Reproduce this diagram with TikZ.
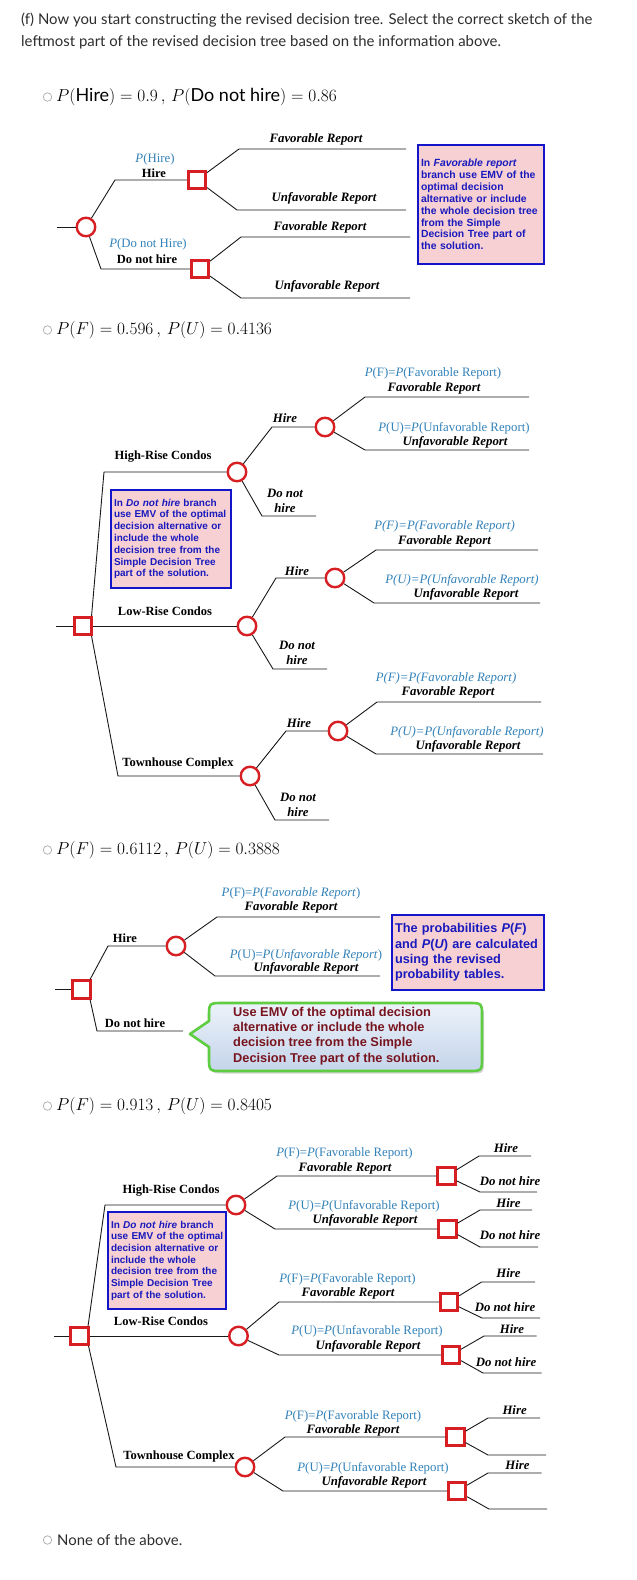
\documentclass[tikz,border=0pt]{standalone}
\usepackage{fontspec}
\usetikzlibrary{shadows}
\setmainfont{Liberation Serif}
\newfontfamily\arialf{Liberation Sans}
\newfontfamily\uif{Lato}
\definecolor{dred}{RGB}{215,30,35}
\definecolor{pblue}{RGB}{50,130,185}
\definecolor{nblue}{RGB}{20,20,200}
\definecolor{npink}{RGB}{246,208,210}
\definecolor{ntext}{RGB}{25,25,190}
\definecolor{cgreen}{RGB}{95,205,65}
\definecolor{ctext}{RGB}{120,20,30}
\definecolor{cbtop}{RGB}{236,242,250}
\definecolor{cbbot}{RGB}{196,212,234}
\definecolor{treeline}{RGB}{25,25,25}
\definecolor{uitext}{RGB}{45,45,45}
\tikzset{
 ln/.style={line width=0.9pt, draw=treeline, line join=round},
 chance/.style={circle, draw=dred, line width=2.4pt, minimum size=18.5pt, inner sep=0pt, fill=white},
 dec/.style={rectangle, draw=dred, line width=2.6pt, minimum size=17.5pt, inner sep=0pt, fill=white},
 bl/.style={font=\bfseries\fontsize{12.5}{14}\selectfont, inner sep=0pt},
 bil/.style={font=\bfseries\itshape\fontsize{12.8}{15}\selectfont, inner sep=0pt, align=center},
 pl/.style={font=\fontsize{12.8}{14}\selectfont, text=pblue, inner sep=0pt},
 notebox/.style={draw=nblue, line width=2pt, fill=npink, text=ntext, align=left, inner xsep=3pt, inner ysep=0pt, font=\arialf\bfseries\fontsize{10.4}{11.9}\selectfont, anchor=north west},
 radio/.style={circle, draw=gray!65, line width=0.7pt, minimum size=8.5pt, inner sep=0pt},
 opt/.style={font=\fontsize{18}{20}\selectfont, anchor=west, inner sep=0pt, text=black},
 ui/.style={font=\uif\fontsize{14.9}{17}\selectfont, anchor=west, inner sep=0pt, text=uitext},
 callt/.style={font=\arialf\bfseries\fontsize{12.8}{15.3}\selectfont, text=ctext, align=left, anchor=west, inner sep=0pt},
}
\newcommand{\pfa}{\textit{P}(F)=\textit{P}(Favorable Report)}
\newcommand{\pua}{\textit{P}(U)=\textit{P}(Unfavorable Report)}
\newcommand{\pfb}{\textit{P(F)=P(Favorable Report)}}
\newcommand{\pub}{\textit{P(U)=P(Unfavorable Report)}}
\newcommand{\pfc}{\textit{P}(F)=\textit{P}(\textit{Favorable Report})}
\newcommand{\puc}{\textit{P}(U)=\textit{P}(\textit{Unfavorable Report})}
\begin{document}
\begin{tikzpicture}[x=1pt,y=-1pt]
\useasboundingbox[fill=white] (0,0) rectangle (637,1580);
% ---------- title ----------
\node[ui] (tt1) at (21,20) {(f) Now you start constructing the revised decision tree. Select the correct sketch of the};
\node[ui] (tt2) at (21,42) {leftmost part of the revised decision tree based on the information above.};
% ---------- option 1 ----------
\node[radio] (r1) at (47.5,97) {};
\node[opt] (o1) at (56,97) {$P(\mbox{\uif Hire}) = 0.9\,,\,P(\mbox{\uif Do not hire}) = 0.86$};
\node[chance] (c1) at (86,227) {};
\coordinate (c1in) at (57,227);
\node[dec] (d1a) at (197,180) {};
\node[dec] (d1b) at (200,269) {};
\coordinate (k1a) at (115,180);
\coordinate (k1b) at (101,269);
\draw[ln] (c1in) -- (c1);
\draw[ln] (c1) -- (k1a) -- (d1a);
\draw[ln] (c1) -- (k1b) -- (d1b);
\coordinate (k1c) at (239,149); \coordinate (e1c) at (406,149);
\coordinate (k1d) at (237,210); \coordinate (e1d) at (406,210);
\coordinate (k1e) at (241,237); \coordinate (e1e) at (410,237);
\coordinate (k1f) at (241,298); \coordinate (e1f) at (410,298);
\draw[ln] (d1a) -- (k1c) -- (e1c);
\draw[ln] (d1a) -- (k1d) -- (e1d);
\draw[ln] (d1b) -- (k1e) -- (e1e);
\draw[ln] (d1b) -- (k1f) -- (e1f);
\node[pl] (l1a) at (155,159) {\textit{P}(Hire)};
\node[bl] (l1b) at (154,173) {Hire};
\node[pl] (l1c) at (148,244) {\textit{P}(Do not Hire)};
\node[bl] (l1d) at (147,259) {Do not hire};
\node[bil] (l1e) at (316,139) {Favorable Report};
\node[bil] (l1f) at (324,198) {Unfavorable Report};
\node[bil] (l1g) at (320,227) {Favorable Report};
\node[bil] (l1h) at (327,286) {Unfavorable Report};
\node[notebox, text width=120pt, minimum height=119pt] (n1) at (417,144) {\mbox{In \textit{Favorable report}}\\ \mbox{branch use EMV of the}\\ \mbox{optimal decision}\\ \mbox{alternative or include}\\ \mbox{the whole decision tree}\\ \mbox{from the Simple}\\ \mbox{Decision Tree part of}\\ \mbox{the solution.}};
% ---------- option 2 ----------
\node[radio] (r2) at (47.5,330) {};
\node[opt] (o2) at (56,330) {$P(F) = 0.596\,,\,P(U) = 0.4136$};
\node[dec] (m2) at (83,626) {};
\coordinate (m2in) at (56,626);
\node[chance] (h2) at (237,472) {};
\node[chance] (lr2) at (247,626) {};
\node[chance] (t2) at (250,776) {};
\coordinate (k2a) at (104,472);
\coordinate (k2t) at (118,776);
\draw[ln] (m2in) -- (m2);
\draw[ln] ([xshift=-1.5pt]m2.north east) -- (k2a) -- (h2);
\draw[ln] (m2) -- (lr2);
\draw[ln] ([xshift=-1.5pt]m2.south east) -- (k2t) -- (t2);
% HR
\node[chance] (hh2) at (325,427) {};
\coordinate (k2b) at (272,427);
\coordinate (k2c) at (262,516); \coordinate (e2c) at (316,516);
\coordinate (k2d) at (365,397); \coordinate (e2d) at (529,397);
\coordinate (k2e) at (365,450); \coordinate (e2e) at (529,450);
\draw[ln] (h2) -- (k2b) -- (hh2);
\draw[ln] (h2) -- (k2c) -- (e2c);
\draw[ln] (hh2) -- (k2d) -- (e2d);
\draw[ln] (hh2) -- (k2e) -- (e2e);
% LR
\node[chance] (lh2) at (335,578) {};
\coordinate (k2f) at (276,578);
\coordinate (k2g) at (273,669); \coordinate (e2g) at (327,669);
\coordinate (k2h) at (376,550); \coordinate (e2h) at (538,550);
\coordinate (k2i) at (374,603); \coordinate (e2i) at (540,603);
\draw[ln] (lr2) -- (k2f) -- (lh2);
\draw[ln] (lr2) -- (k2g) -- (e2g);
\draw[ln] (lh2) -- (k2h) -- (e2h);
\draw[ln] (lh2) -- (k2i) -- (e2i);
% TC
\node[chance] (th2) at (338,731) {};
\coordinate (k2j) at (286,731);
\coordinate (k2k) at (275,820); \coordinate (e2k) at (329,820);
\coordinate (k2l) at (377,702); \coordinate (e2l) at (541,702);
\coordinate (k2m) at (376,754); \coordinate (e2m) at (543,754);
\draw[ln] (t2) -- (k2j) -- (th2);
\draw[ln] (t2) -- (k2k) -- (e2k);
\draw[ln] (th2) -- (k2l) -- (e2l);
\draw[ln] (th2) -- (k2m) -- (e2m);
\node[bl] (l2a) at (163,457) {High-Rise Condos};
\node[bil] (l2b) at (285,418) {Hire};
\node[bil] (l2c) at (285,500.5) {Do not\\hire};
\node[pl] (l2d) at (433,373) {\pfa};
\node[bil] (l2e) at (434,388) {Favorable Report};
\node[pl] (l2f) at (454,428) {\pua};
\node[bil] (l2g) at (455,442) {Unfavorable Report};
\node[bl] (l2h) at (165,611) {Low-Rise Condos};
\node[bil] (l2i) at (297,571) {Hire};
\node[bil] (l2j) at (297,653) {Do not\\hire};
\node[pl] (l2k) at (444.5,526) {\pfb};
\node[bil] (l2l) at (444.5,541) {Favorable Report};
\node[pl] (l2m) at (462,580) {\pub};
\node[bil] (l2n) at (466,594) {Unfavorable Report};
\node[bl] (l2o) at (178,763) {Townhouse Complex};
\node[bil] (l2p) at (299,723) {Hire};
\node[bil] (l2q) at (298,805) {Do not\\hire};
\node[pl] (l2r) at (446,678) {\pfb};
\node[bil] (l2s) at (448,692) {Favorable Report};
\node[pl] (l2t) at (467,732) {\pub};
\node[bil] (l2u) at (468,746) {Unfavorable Report};
\node[notebox, text width=114pt, minimum height=98pt, font=\arialf\bfseries\fontsize{10}{11.8}\selectfont] (n2) at (110,489) {\mbox{In \textit{Do not hire} branch}\\ \mbox{use EMV of the optimal}\\ \mbox{decision alternative or}\\ \mbox{include the whole}\\ \mbox{decision tree from the}\\ \mbox{Simple Decision Tree}\\ \mbox{part of the solution.}};
% ---------- option 3 ----------
\node[radio] (r3) at (47.5,850) {};
\node[opt] (o3) at (56,850) {$P(F) = 0.6112\,,\,P(U) = 0.3888$};
\node[dec] (m3) at (81.5,989.5) {};
\coordinate (m3in) at (55,989.5);
\node[chance] (hc3) at (176,946) {};
\coordinate (k3a) at (108,946);
\coordinate (k3b) at (97,1031); \coordinate (e3b) at (183,1031);
\coordinate (k3c) at (217,917); \coordinate (e3c) at (380,917);
\coordinate (k3d) at (215,976); \coordinate (e3d) at (380,976);
\draw[ln] (m3in) -- (m3);
\draw[ln] ([xshift=-1.5pt]m3.north east) -- (k3a) -- (hc3);
\draw[ln] ([xshift=-1.5pt]m3.south east) -- (k3b) -- (e3b);
\draw[ln] (hc3) -- (k3c) -- (e3c);
\draw[ln] (hc3) -- (k3d) -- (e3d);
\node[bl] (l3a) at (125,938) {Hire};
\node[bl] (l3b) at (135,1023) {Do not hire};
\node[pl] (l3c) at (291,893) {\pfc};
\node[bil] (l3d) at (291,907) {Favorable Report};
\node[pl] (l3e) at (306,955) {\puc};
\node[bil] (l3f) at (306,968) {Unfavorable Report};
\node[notebox, text width=146pt, minimum height=75pt, font=\arialf\bfseries\fontsize{12.7}{15.4}\selectfont] (n3) at (391,914) {\mbox{The probabilities \textit{P}(\textit{F})}\\ \mbox{and \textit{P}(\textit{U}) are calculated}\\ \mbox{using the revised}\\ \mbox{probability tables.}};
\path[draw=cgreen, line width=2.6pt, line join=round, top color=cbtop, bottom color=cbbot, drop shadow={shadow xshift=2pt, shadow yshift=-2.5pt, opacity=0.35}]
 (190,1034) -- (209,1021) -- (209,1017) .. controls (209,1003) .. (223,1003) -- (468,1003) .. controls (482,1003) .. (482,1017) -- (482,1057) .. controls (482,1071) .. (468,1071) -- (223,1071) .. controls (209,1071) .. (209,1057) -- (209,1047) -- cycle;
\node[callt] (cl) at (233,1036) {Use EMV of the optimal decision\\ alternative or include the whole\\ decision tree from the Simple\\ Decision Tree part of the solution.};
% ---------- option 4 ----------
\node[radio] (r4) at (47.5,1106) {};
\node[opt] (o4) at (56,1106) {$P(F) = 0.913\,,\,P(U) = 0.8405$};
\node[dec] (m4) at (79.5,1336) {};
\coordinate (m4in) at (54,1336);
\node[chance] (h4) at (236,1205) {};
\node[chance] (lr4) at (238.5,1336) {};
\node[chance] (t4) at (245,1467) {};
\coordinate (k4a) at (105,1205);
\coordinate (k4t) at (116,1467);
\draw[ln] (m4in) -- (m4);
\draw[ln] ([xshift=-1.5pt]m4.north east) -- (k4a) -- (h4);
\draw[ln] (m4) -- (lr4);
\draw[ln] ([xshift=-1pt]m4.south east) -- (k4t) -- (t4);
\node[dec] (a4) at (446.5,1176) {};
\node[dec] (b4) at (447.5,1229) {};
\node[dec] (c4) at (449,1302) {};
\node[dec] (d4) at (451,1355) {};
\node[dec] (e4) at (455.5,1437) {};
\node[dec] (f4) at (457,1491) {};
\coordinate (k4b) at (277,1176);
\coordinate (k4e) at (275,1229);
\coordinate (k4h) at (279,1302);
\coordinate (k4k) at (279,1355);
\coordinate (k4n) at (285,1437);
\coordinate (k4q) at (283,1491);
\draw[ln] (h4) -- (k4b) -- (a4);
\draw[ln] (h4) -- (k4e) -- (b4);
\draw[ln] (lr4) -- (k4h) -- (c4);
\draw[ln] (lr4) -- (k4k) -- (d4);
\draw[ln] (t4) -- (k4n) -- (e4);
\draw[ln] (t4) -- (k4q) -- (f4);
\coordinate (k4c) at (479,1156); \coordinate (e4c) at (531,1156);
\coordinate (k4d) at (480,1192); \coordinate (e4d) at (537,1192);
\coordinate (k4f) at (480,1210); \coordinate (e4f) at (532,1210);
\coordinate (k4g) at (480,1247); \coordinate (e4g) at (538,1247);
\coordinate (k4i) at (481.5,1282); \coordinate (e4i) at (535,1282);
\coordinate (k4j) at (482,1318); \coordinate (e4j) at (540,1318);
\coordinate (k4l) at (484,1336); \coordinate (e4l) at (536.5,1336);
\coordinate (k4m) at (483,1373); \coordinate (e4m) at (541.5,1373);
\coordinate (k4o) at (488,1418); \coordinate (e4o) at (540,1418);
\coordinate (k4p) at (488,1455); \coordinate (e4p) at (546,1455);
\coordinate (k4r) at (488,1473); \coordinate (e4r) at (541.5,1473);
\coordinate (k4s) at (489,1509); \coordinate (e4s) at (547,1509);
\draw[ln] (a4) -- (k4c) -- (e4c);
\draw[ln] (a4) -- (k4d) -- (e4d);
\draw[ln] (b4) -- (k4f) -- (e4f);
\draw[ln] (b4) -- (k4g) -- (e4g);
\draw[ln] (c4) -- (k4i) -- (e4i);
\draw[ln] (c4) -- (k4j) -- (e4j);
\draw[ln] (d4) -- (k4l) -- (e4l);
\draw[ln] (d4) -- (k4m) -- (e4m);
\draw[ln] (e4) -- (k4o) -- (e4o);
\draw[ln] (e4) -- (k4p) -- (e4p);
\draw[ln] (f4) -- (k4r) -- (e4r);
\draw[ln] (f4) -- (k4s) -- (e4s);
\node[bl] (l4a) at (171,1191) {High-Rise Condos};
\node[bl] (l4b) at (161,1321) {Low-Rise Condos};
\node[bl] (l4c) at (179,1456) {Townhouse Complex};
\node[pl] (l4d) at (344.5,1153) {\pfa};
\node[bil] (l4e) at (345,1168) {Favorable Report};
\node[pl] (l4f) at (364,1206) {\pua};
\node[bil] (l4g) at (365,1220) {Unfavorable Report};
\node[pl] (l4h) at (347.5,1279) {\pfa};
\node[bil] (l4i) at (348,1293) {Favorable Report};
\node[pl] (l4j) at (367,1331) {\pua};
\node[bil] (l4k) at (368,1346) {Unfavorable Report};
\node[pl] (l4l) at (353,1416) {\pfa};
\node[bil] (l4m) at (353,1430) {Favorable Report};
\node[pl] (l4n) at (373,1468) {\pua};
\node[bil] (l4o) at (374,1482) {Unfavorable Report};
\node[bil] (l4p) at (506,1148) {Hire};
\node[bil] (l4q) at (510,1181) {Do not hire};
\node[bil] (l4r) at (508.5,1203) {Hire};
\node[bil] (l4s) at (510,1235) {Do not hire};
\node[bil] (l4t) at (508.5,1273) {Hire};
\node[bil] (l4u) at (505,1307) {Do not hire};
\node[bil] (l4v) at (512,1329) {Hire};
\node[bil] (l4w) at (506,1362) {Do not hire};
\node[bil] (l4x) at (514.6,1410) {Hire};
\node[bil] (l4y) at (517.5,1465) {Hire};
\node[notebox, text width=112pt, minimum height=97pt, font=\arialf\bfseries\fontsize{10}{11.7}\selectfont] (n4) at (107,1211) {\mbox{In \textit{Do not hire} branch}\\ \mbox{use EMV of the optimal}\\ \mbox{decision alternative or}\\ \mbox{include the whole}\\ \mbox{decision tree from the}\\ \mbox{Simple Decision Tree}\\ \mbox{part of the solution.}};
% ---------- none ----------
\node[radio] (r5) at (47.5,1540) {};
\node[ui] (o5) at (57,1540) {None of the above.};
\end{tikzpicture}
\end{document}
